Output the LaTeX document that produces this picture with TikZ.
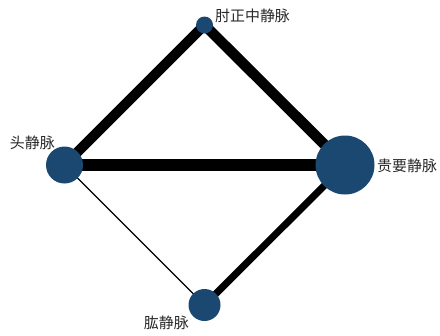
\documentclass[tikz,border=0pt]{standalone}
\usepackage{fontspec}
\newfontfamily\cjk{Noto Sans CJK SC}
\definecolor{veinblue}{RGB}{27,72,112}
\definecolor{labelgray}{RGB}{40,40,40}
\begin{document}
\begin{tikzpicture}[x=1bp, y=-1bp, font=\cjk\fontsize{15}{18}\selectfont]
                \useasboundingbox (0,0) rectangle (440,335);

                \tikzset{
                    vein/.style = {circle, fill=veinblue, inner sep=0pt},
                    link/.style = {black, line cap=butt},
                    tag/.style = {text=labelgray, inner sep=0pt},
                }

                \coordinate (zhou) at (204.5,25);
                \coordinate (tou) at (64.5,165);
                \coordinate (gui) at (345,165);
                \coordinate (gong) at (204.5,305);

                \draw[link, line width=10bp] (tou) -- (zhou);
                \draw[link, line width=10.5bp] (zhou) -- (gui);
                \draw[link, line width=11.5bp] (tou) -- (gui);
                \draw[link, line width=7bp] (gui) -- (gong);
                \draw[link, line width=1.4bp] (tou) -- (gong);

                \node[vein, minimum size=17bp] (zhoun) at (zhou) {};
                \node[vein, minimum size=37bp] (toun) at (tou) {};
                \node[vein, minimum size=59bp] (guin) at (gui) {};
                \node[vein, minimum size=32bp] (gongn) at (gong) {};

                \node[tag, anchor=west] (zhoutag) at (215,16) {肘正中静脉};
                \node[tag, anchor=east] (toutag) at (55,143) {头静脉};
                \node[tag, anchor=west] (guitag) at (377,166) {贵要静脉};
                \node[tag, anchor=east] (gongtag) at (189,323) {肱静脉};

            \end{tikzpicture}
\end{document}
